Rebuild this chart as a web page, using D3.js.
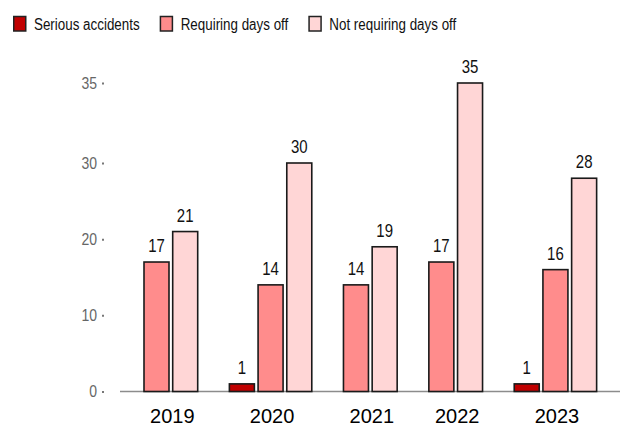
<!DOCTYPE html>
<html>
<head>
<meta charset="utf-8">
<script src="https://cdn.jsdelivr.net/npm/d3@7"></script>
<style>
  body { margin: 0; background: #fff; }
  svg { display: block; font-family: "Liberation Sans", Arial, sans-serif; }
</style>
</head>
<body>
<svg id="chart" width="620" height="427"></svg>
<script>
var years = ['2019', '2020', '2021', '2022', '2023']
var seriesNames = ['Serious accidents', 'Requiring days off', 'Not requiring days off']
var serious = [0, 1, 0, 0, 1]
var requiring = [17, 14, 14, 17, 16]
var notRequiring = [21, 30, 19, 35, 28]
var yTicks = [0, 10, 20, 30, 35]

var colors = ['#c00000', '#ff8c8c', '#ffd6d6']

// text in the reference is drawn a bit taller than wide
var stretch = 1.18

function main(){
	var svg = d3.select('svg#chart')
	var values = [serious, requiring, notRequiring]

	// bars with value 0 are dropped, remaining bars of a year sit side by side
	var bars = []
	var groups = []
	var idx = 0
	var groupGap = 0.975
	years.forEach(function(year, gi){
		var first = idx + gi * groupGap
		values.forEach(function(vals, si){
			if (vals[gi] > 0){
				bars.push({year: year, series: si, value: vals[gi], u: idx + gi * groupGap})
				idx++
			}
		})
		groups.push({year: year, from: first, to: idx - 1 + gi * groupGap})
	})
	var totalUnits = idx + (years.length - 1) * groupGap

	var step = 28.7, barW = 25
	var x = d3.scaleLinear()
		.domain([0, totalUnits])
		.range([144, 144 + totalUnits * step])

	// axis is not linear at the top (the 35 tick sits a full step above 30)
	var y = d3.scaleLinear()
		.domain([0, 30, 35])
		.range([391.5, 163, 83])

	// baseline
	svg.append('line')
		.attr('x1', 120).attr('x2', 620)
		.attr('y1', y(0)).attr('y2', y(0))
		.style('stroke', '#8c8c8c')
		.style('stroke-width', 1.5)

	// y axis
	var yAxis = svg.append('g')
		.attr('transform', 'translate(104,0)')
		.call(d3.axisLeft(y).tickValues(yTicks).tickSize(2).tickPadding(5))
	yAxis.select('.domain').remove()
	yAxis.selectAll('.tick line')
		.style('stroke', '#777')
		.style('stroke-width', 2)
	yAxis.selectAll('.tick text')
		.attr('x', null).attr('dy', null)
		.attr('transform', 'translate(-7,5) scale(1,' + stretch + ')')
		.style('font-family', null)
		.style('font-size', '14px')
		.style('fill', '#666')

	var g = svg.append('g')
	g.selectAll('rect.bar')
		.data(bars)
		.enter()
		.append('rect')
		.attr('class', 'bar')
		.attr('x', function(d){ return x(d.u) })
		.attr('y', function(d){ return y(d.value) })
		.attr('width', barW)
		.attr('height', function(d){ return y(0) - y(d.value) })
		.style('fill', function(d){ return colors[d.series] })
		.style('stroke', '#1a1a1a')
		.style('stroke-width', 1.6)

	g.selectAll('text.val')
		.data(bars)
		.enter()
		.append('text')
		.attr('class', 'val')
		.attr('transform', function(d){
			return 'translate(' + (x(d.u) + barW / 2) + ',' + (y(d.value) - 10) + ') scale(1,' + stretch + ')'
		})
		.attr('text-anchor', 'middle')
		.style('font-size', '15px')
		.style('fill', '#111')
		.text(function(d){ return d.value })

	g.selectAll('text.year')
		.data(groups)
		.enter()
		.append('text')
		.attr('class', 'year')
		.attr('x', function(d){ return (x(d.from) + x(d.to) + barW) / 2 + 1.5 })
		.attr('y', 423)
		.attr('text-anchor', 'middle')
		.style('font-size', '20px')
		.style('fill', '#000')
		.text(function(d){ return d.year })

	// legend
	var legend = svg.append('g')
	var lx = 13
	seriesNames.forEach(function(name, i){
		legend.append('rect')
			.attr('x', lx + 0.75).attr('y', 16.5)
			.attr('width', 12).attr('height', 14.5)
			.style('fill', colors[i])
			.style('stroke', '#222')
			.style('stroke-width', 1.5)
		var t = legend.append('text')
			.attr('transform', 'translate(' + (lx + 21) + ',30) scale(1,' + stretch + ')')
			.style('font-size', '13.4px')
			.style('fill', '#111')
			.text(name)
		lx += 21 + t.node().getComputedTextLength() + 20
	})
}
main()
</script>
</body>
</html>
